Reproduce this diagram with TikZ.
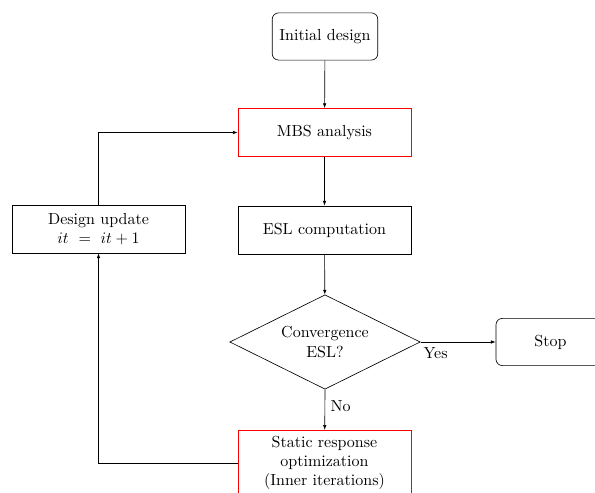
\documentclass[tikz,border=0pt]{standalone}
\usetikzlibrary{shapes.geometric,arrows.meta}
\begin{document}
\begin{tikzpicture}[x=0.625pt,y=-0.625pt,
  base/.style={draw,align=center,inner sep=2pt},
  rbox/.style={base,rounded corners=4pt,minimum width=66pt,minimum height=29.5pt},
  pbox/.style={base,minimum width=108pt,minimum height=30pt},
  redbox/.style={pbox,draw=red},
  dec/.style={draw,diamond,aspect=2,align=center,inner sep=0pt,minimum width=119pt,minimum height=59pt},
  arr/.style={-{Latex[length=3pt,width=2.2pt]}},
  lbl/.style={inner sep=3.33pt}]
\clip (0,0) rectangle (595,493);
\useasboundingbox (0,0) rectangle (595,493);
\node[rbox] (init) at (325,36.5) {Initial design};
\node[redbox] (mbs) at (324.5,132.5) {MBS analysis};
\node[pbox] (esl) at (324.5,230) {ESL computation};
\node[dec] (conv) at (325,342) {Convergence\\ESL?};
\node[rbox,minimum width=80pt] (stop) at (560,342) {Stop\hspace*{12pt}};
\node[redbox,minimum height=41pt] (stat) at (324.5,463) {Static response\\optimization\\(Inner iterations)};
\node[pbox] (upd) at (98.5,229) {Design update\\$it\ =\ it+1$};
\draw[arr] (init) -- (mbs);
\draw[arr] (mbs) -- (esl);
\draw[arr] (esl) -- (conv);
\draw[arr] (conv.east) -- node[lbl,pos=0.2,below]{Yes} (stop);
\draw[arr] (conv.south) -- node[lbl,pos=0.4,right]{No} (stat);
\draw[arr] (stat.west) -| (upd.south);
\draw[arr] (upd.north) |- (mbs.west);
\end{tikzpicture}
\end{document}
